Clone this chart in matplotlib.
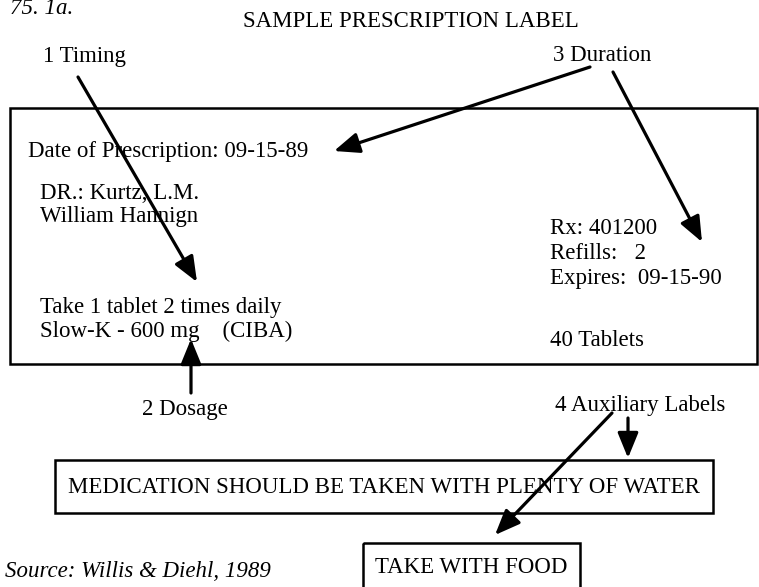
import matplotlib
matplotlib.use("Agg")
import matplotlib.pyplot as plt
from matplotlib.patches import Rectangle

# ---- content ----
header_text = "75. 1a."
title_text = "SAMPLE PRESCRIPTION LABEL"
callout_labels = ["1 Timing", "3 Duration", "2 Dosage", "4 Auxiliary Labels"]
label_left_lines = ["Date of Prescription: 09-15-89", "DR.: Kurtz, L.M.", "William Hannign",
                    "Take 1 tablet 2 times daily", "Slow-K - 600 mg    (CIBA)"]
label_right_lines = ["Rx: 401200", "Refills:   2", "Expires:  09-15-90", "40 Tablets"]
auxiliary_labels = ["MEDICATION SHOULD BE TAKEN WITH PLENTY OF WATER", "TAKE WITH FOOD"]
source_text = "Source: Willis & Diehl, 1989"

# ---- layout (pixel coordinates, y downward; y = text baseline) ----
W, H = 759, 587
callout_pos = [(43, 62), (553, 61), (142, 415), (555, 411)]
left_pos = [(28, 157), (40, 199), (40, 222), (40, 313), (40, 337)]
right_pos = [(550, 234), (550, 259), (550, 284), (550, 346)]
main_box = (10, 108, 757, 364)
aux_boxes = [(55, 460, 713, 513), (363, 543, 580, 600)]
aux_baselines = [493, 573]
arrows = [((78, 77), (197, 282)),
          ((590, 67), (334, 151)),
          ((613, 72), (702, 242)),
          ((191, 393), (191, 339)),
          ((628, 418), (628, 458)),
          ((612, 413), (495, 535))]

FONT = "Liberation Serif"
FS = 16.5

fig = plt.figure(figsize=(W / 100, H / 100), dpi=100)
ax = fig.add_axes([0, 0, 1, 1])
ax.set_xlim(0, W)
ax.set_ylim(H, 0)
ax.axis("off")


def txt(x, y, s, **kw):
    return ax.text(x, y, s, family=FONT, fontsize=FS, va="baseline", **kw)


txt(10, 14, header_text, style="italic", ha="left")
txt(411, 27, title_text, ha="center")

for t, (x, y) in zip(callout_labels, callout_pos):
    txt(x, y, t, ha="left")
for t, (x, y) in zip(label_left_lines, left_pos):
    txt(x, y, t, ha="left")
for t, (x, y) in zip(label_right_lines, right_pos):
    txt(x, y, t, ha="left")

x0, y0, x1, y1 = main_box
ax.add_patch(Rectangle((x0, y0), x1 - x0, y1 - y0, fill=False, lw=1.8, ec="black"))
for t, (bx0, by0, bx1, by1), bl in zip(auxiliary_labels, aux_boxes, aux_baselines):
    ax.add_patch(Rectangle((bx0, by0), bx1 - bx0, by1 - by0, fill=False, lw=1.8, ec="black",
                           clip_on=True))
    txt((bx0 + bx1) / 2, bl, t, ha="center")

txt(5, 577, source_text, style="italic", ha="left")

for (sx, sy), (ex, ey) in arrows:
    ax.annotate("", xy=(ex, ey), xytext=(sx, sy),
                arrowprops=dict(arrowstyle="-|>,head_length=1.1,head_width=0.45",
                                mutation_scale=14, lw=2.3, color="black",
                                shrinkA=0, shrinkB=0))

fig.savefig("out.png", dpi=100)
